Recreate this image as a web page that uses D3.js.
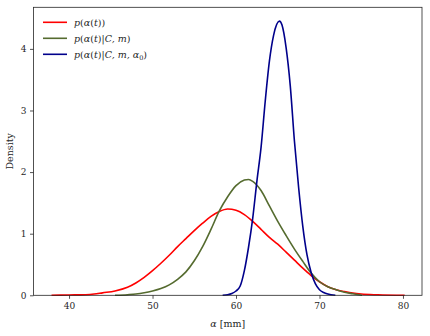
<!DOCTYPE html>
<html><head><meta charset="utf-8">
<script src="https://cdn.jsdelivr.net/npm/d3@7"></script>
<style>body{margin:0;background:#fff}svg{display:block}</style>
</head><body><svg id="c" width="430" height="336"></svg>
<script>
const redX = [37.9,40,42,43,44,45.5,47,48,49,50,51,52,53,54,55,56,57,58,59,60,61,62,63,64,65,66,67,68,69,70,71,72,73,74,75,77,80.2];
const redY = [0,0.005,0.01,0.02,0.04,0.07,0.13,0.20,0.29,0.40,0.52,0.65,0.79,0.92,1.05,1.17,1.28,1.36,1.40,1.38,1.31,1.20,1.07,0.94,0.83,0.70,0.57,0.44,0.32,0.22,0.14,0.09,0.06,0.035,0.02,0.008,0];
const greenX = [45.5,47,48,49,50,51,52,53,54,55,56,57,58,59,60,61,61.5,62,63,64,65,66,67,68,69,70,71,72,73,74,75.1];
const greenY = [0,0.01,0.02,0.04,0.07,0.11,0.17,0.26,0.38,0.56,0.79,1.07,1.37,1.60,1.78,1.87,1.88,1.85,1.70,1.45,1.20,0.97,0.75,0.55,0.36,0.22,0.14,0.09,0.05,0.025,0];
const blueX = [58.4,59,59.5,60,60.5,61,61.5,62,62.5,63,63.5,64,64.5,65.2,65.5,66,66.5,67,67.5,68,68.5,69,69.5,70,70.5,71,71.9];
const blueY = [0,0.01,0.03,0.07,0.15,0.40,0.78,1.25,1.85,2.40,3.15,3.80,4.22,4.45,4.39,4.02,3.40,2.50,1.75,1.12,0.66,0.37,0.19,0.09,0.045,0.02,0];
const xTicks = [40,50,60,70,80];
const yTicks = [0,1,2,3,4];
const series = [
  {xs:redX, ys:redY, color:"#ff0000"},
  {xs:greenX, ys:greenY, color:"#556b2f"},
  {xs:blueX, ys:blueY, color:"#00008b"}
];
const FONT = "'DejaVu Serif', serif";
const L=33.5, R=422, T=7.3, B=295.3;
const svg = d3.select("#c");
const x = d3.scaleLinear().domain([35.74,82.28]).range([L,R]);
const y = d3.scaleLinear().domain([0,4.675]).range([B,T]);
const line = d3.line().curve(d3.curveMonotoneX);
series.forEach(s=>{
  svg.append("path").attr("d", line(s.xs.map((v,i)=>[x(v), y(s.ys[i])])))
    .attr("fill","none").attr("stroke",s.color).attr("stroke-width",1.6);
});
const xa = svg.append("g").attr("transform",`translate(0,${B})`).call(d3.axisBottom(x).tickValues(xTicks).tickFormat(d3.format("d")).tickSize(3.5).tickPadding(3.5));
const ya = svg.append("g").attr("transform",`translate(${L},0)`).call(d3.axisLeft(y).tickValues(yTicks).tickFormat(d3.format("d")).tickSize(3.5).tickPadding(3.5));
[xa,ya].forEach(a=>{a.attr("font-family",FONT).attr("font-size",9); a.select(".domain").remove(); a.selectAll("line").attr("stroke","#262626").attr("stroke-width",0.8); a.selectAll("text").attr("fill","#262626");});
svg.append("rect").attr("x",L).attr("y",T).attr("width",R-L).attr("height",B-T).attr("fill","none").attr("stroke","#262626").attr("stroke-width",0.8);
svg.append("text").attr("x",(L+R)/2).attr("y",327).attr("text-anchor","middle").attr("font-size",9.5).attr("font-family",FONT).attr("fill","#262626")
  .html('<tspan font-style="italic">α</tspan> [mm]');
svg.append("text").attr("transform",`translate(12.5,${(T+B)/2}) rotate(-90)`).attr("text-anchor","middle").attr("font-size",9.5).attr("font-family",FONT).attr("fill","#262626").text("Density");
const legendLabels = [
  '<tspan font-style="italic">p</tspan>(<tspan font-style="italic">α</tspan>(<tspan font-style="italic">t</tspan>))',
  '<tspan font-style="italic">p</tspan>(<tspan font-style="italic">α</tspan>(<tspan font-style="italic">t</tspan>)|<tspan font-style="italic">C, m</tspan>)',
  '<tspan font-style="italic">p</tspan>(<tspan font-style="italic">α</tspan>(<tspan font-style="italic">t</tspan>)|<tspan font-style="italic">C, m, α</tspan><tspan font-size="6.5" dy="2">0</tspan><tspan dy="-2">)</tspan>'
];
series.forEach((s,i)=>{
  const yy = 22.3 + i*16;
  svg.append("line").attr("x1",43).attr("x2",67).attr("y1",yy).attr("y2",yy).attr("stroke",s.color).attr("stroke-width",1.6);
  svg.append("text").attr("x",74).attr("y",yy+3.5).attr("font-size",9.5).attr("font-family",FONT).attr("fill","#262626").html(legendLabels[i]);
});
</script></body></html>
